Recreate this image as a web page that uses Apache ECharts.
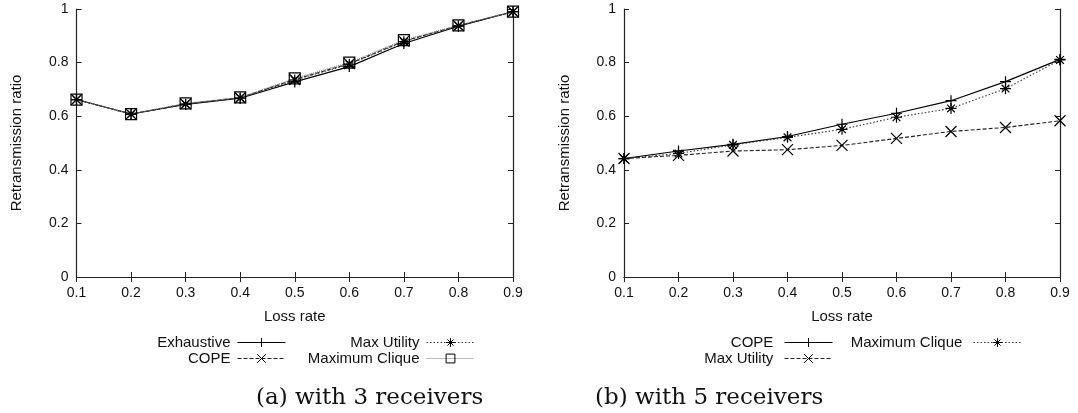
<!DOCTYPE html>
<html>
<head>
<meta charset="utf-8">
<style>
    html, body { margin: 0; padding: 0; background: #fff; }
    #main { width: 1078px; height: 413px; }
</style>
<script src="https://cdn.jsdelivr.net/npm/echarts@6/dist/echarts.min.js"></script>
</head>
<body>
<div id="main"></div>
<script>
    // x categories (loss rate)
    const lossRates = ['0.1', '0.2', '0.3', '0.4', '0.5', '0.6', '0.7', '0.8', '0.9'];

    // (a) with 3 receivers
    const exhaustive3 = [0.662, 0.608, 0.644, 0.667, 0.728, 0.785, 0.871, 0.936, 0.990];
    const cope3 = [0.662, 0.608, 0.646, 0.669, 0.737, 0.796, 0.880, 0.938, 0.990];
    const maxUtility3 = [0.662, 0.608, 0.645, 0.668, 0.735, 0.794, 0.878, 0.937, 0.990];
    const maxClique3 = [0.662, 0.608, 0.648, 0.670, 0.741, 0.800, 0.884, 0.939, 0.990];

    // (b) with 5 receivers
    const cope5 = [0.442, 0.470, 0.495, 0.524, 0.570, 0.611, 0.658, 0.729, 0.812];
    const maxUtility5 = [0.442, 0.454, 0.470, 0.475, 0.491, 0.517, 0.543, 0.558, 0.583];
    const maxClique5 = [0.442, 0.461, 0.493, 0.521, 0.551, 0.596, 0.629, 0.703, 0.810];

    const SYM_PLUS = 'path://M5,0L5,10M0,5L10,5';
    const SYM_CROSS = 'path://M0,0L10,10M10,0L0,10';
    const SYM_STAR = 'path://M5,0L5,10M0,5L10,5M1.5,1.5L8.5,8.5M8.5,1.5L1.5,8.5';
    const SYM_BOX = 'path://M0,0L10,0L10,10L0,10Z';

    const labelFont = {fontFamily: 'Liberation Sans', fontSize: 14, color: '#111'};
    const axisCol = '#222';

    function makeSeries(name, data, idx, symbol, lineType, color) {
        return {
            name: name,
            type: 'line',
            xAxisIndex: idx * 2,
            yAxisIndex: idx * 2,
            data: data,
            symbol: symbol,
            symbolSize: 11,
            animation: false,
            lineStyle: {color: color, width: 1.1, type: lineType},
            itemStyle: {color: 'rgba(0,0,0,0)', borderColor: '#000', borderWidth: 1.2},
            emphasis: {disabled: true}
        };
    }

    function axesFor(gi) {
        const xs = [
            {
                type: 'category', gridIndex: gi, data: lossRates, boundaryGap: false,
                name: 'Loss rate', nameLocation: 'middle', nameGap: 32,
                nameTextStyle: {fontFamily: 'Liberation Sans', fontSize: 15, color: '#111'},
                axisLine: {lineStyle: {color: axisCol, width: 1.2}},
                axisTick: {inside: true, length: 5, lineStyle: {color: axisCol}},
                axisLabel: Object.assign({margin: 9}, labelFont),
                splitLine: {show: false}
            },
            {
                type: 'category', gridIndex: gi, data: lossRates, boundaryGap: false, position: 'top',
                axisLine: {lineStyle: {color: axisCol, width: 1.2}},
                axisTick: {inside: true, length: 5, lineStyle: {color: axisCol}},
                axisLabel: {show: false}, splitLine: {show: false}
            }
        ];
        const ys = [
            {
                type: 'value', gridIndex: gi, min: 0, max: 1, interval: 0.2,
                name: 'Retransmission ratio', nameLocation: 'middle', nameGap: 52,
                nameTextStyle: {fontFamily: 'Liberation Sans', fontSize: 15, color: '#111'},
                axisLine: {show: true, lineStyle: {color: axisCol, width: 1.2}},
                axisTick: {show: true, inside: true, length: 5, lineStyle: {color: axisCol}},
                axisLabel: Object.assign({margin: 8}, labelFont),
                splitLine: {show: false}
            },
            {
                type: 'value', gridIndex: gi, min: 0, max: 1, interval: 0.2, position: 'right',
                axisLine: {show: true, lineStyle: {color: axisCol, width: 1.2}},
                axisTick: {show: true, inside: true, length: 5, lineStyle: {color: axisCol}},
                axisLabel: {show: false}, splitLine: {show: false}
            }
        ];
        return {xs: xs, ys: ys};
    }

    function legendAt(name, right, top) {
        return {
            data: [name], right: right, top: top, padding: 0,
            itemWidth: 48, itemHeight: 11, align: 'right',
            selectedMode: false,
            lineStyle: {width: 1},
            itemStyle: {borderWidth: 1},
            textStyle: {fontFamily: 'Liberation Sans', fontSize: 15, color: '#111', padding: [0, 2, 0, 0]}
        };
    }

    const a = axesFor(0), b = axesFor(1);
    const captionFont = {fontFamily: 'DejaVu Serif', fontSize: 23, fontWeight: 'normal', color: '#111'};

    const option = {
        animation: false,
        grid: [
            {left: 76.5, top: 9, width: 436.5, height: 268},
            {left: 624, top: 9, width: 436, height: 268}
        ],
        xAxis: a.xs.concat(b.xs),
        yAxis: a.ys.concat(b.ys),
        legend: [
            legendAt('Exhaustive', 792, 335),
            legendAt('COPE', 792, 351),
            legendAt('Max Utility', 603, 335),
            legendAt('Maximum Clique', 603, 351),
            legendAt('COPE ', 245, 335),
            legendAt('Max Utility ', 245, 351),
            legendAt('Maximum Clique ', 56, 335)
        ],
        title: [
            {text: '(a) with 3 receivers', left: 256, top: 387, padding: 0, textStyle: captionFont},
            {text: '(b) with 5 receivers', left: 595, top: 387, padding: 0, textStyle: captionFont}
        ],
        series: [
            makeSeries('Exhaustive', exhaustive3, 0, SYM_PLUS, 'solid', '#000'),
            makeSeries('COPE', cope3, 0, SYM_CROSS, [4, 2], '#222'),
            makeSeries('Max Utility', maxUtility3, 0, SYM_STAR, [1.5, 2], '#333'),
            makeSeries('Maximum Clique', maxClique3, 0, SYM_BOX, [1, 1], '#777'),
            makeSeries('COPE ', cope5, 1, SYM_PLUS, 'solid', '#000'),
            makeSeries('Max Utility ', maxUtility5, 1, SYM_CROSS, [4, 2], '#222'),
            makeSeries('Maximum Clique ', maxClique5, 1, SYM_STAR, [1.5, 2], '#333')
        ]
    };

    const chart = echarts.init(document.getElementById('main'));
    chart.setOption(option);
</script>
</body>
</html>
